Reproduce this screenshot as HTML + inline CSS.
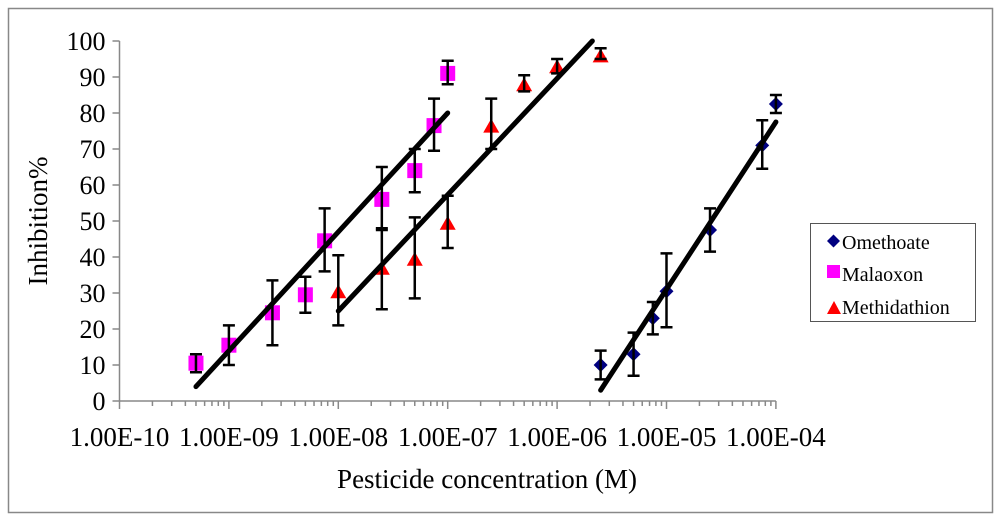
<!DOCTYPE html>
<html><head><meta charset="utf-8"><style>
body{margin:0;background:#fff;}
svg{display:block;font-family:"Liberation Serif",serif;}
</style></head><body>
<svg id="chart" width="1000" height="521">
<rect x="8.5" y="8.5" width="984" height="504" fill="#fff" stroke="#888" stroke-width="1.5"/>
<g id="axes"></g><g id="marks"></g>
<text x="47" y="221" font-size="27" text-anchor="middle" transform="rotate(-90 47 221)">Inhibition%</text>
<text x="487" y="488" font-size="27" text-anchor="middle">Pesticide concentration (M)</text>
<g>
<rect x="810.5" y="223.5" width="165" height="98" fill="#fff" stroke="#555"/>
<g><path d="M827,241 l6.5,-6.5 l6.5,6.5 l-6.5,6.5z" fill="#000080"/><text x="842" y="249" font-size="20">Omethoate</text></g>
<g><rect x="827" y="265" width="13" height="13" fill="#ff00ff"/><text x="842" y="281" font-size="20">Malaoxon</text></g>
<g><path d="M827,314 l7,-13 l7,13z" fill="#ff0000"/><text x="842" y="314" font-size="20">Methidathion</text></g>
</g>
</svg>
<script>
const xTickLabels=["1.00E-10","1.00E-09","1.00E-08","1.00E-07","1.00E-06","1.00E-05","1.00E-04"];
const yTickLabels=[0,10,20,30,40,50,60,70,80,90,100];
const malConc=[5e-10,1e-9,2.5e-9,5e-9,7.5e-9,2.5e-8,5e-8,7.5e-8,1e-7];
const malVal=[10.5,15.5,24.5,29.5,44.5,56,64,76.5,91];
const malLo=[8,10,15.5,24.5,36,48,58,69.5,88];
const malHi=[13,21,33.5,34.5,53.5,65,70,84,94.5];
const metConc=[1e-8,2.5e-8,5e-8,1e-7,2.5e-7,5e-7,1e-6,2.5e-6];
const metVal=[30.5,37,39.5,49.5,76.5,88,93,96];
const metLo=[21,25.5,28.5,42.5,70,86,91,95];
const metHi=[40.5,47.5,51,57,84,90.5,95,98];
const omeConc=[2.5e-6,5e-6,7.5e-6,1e-5,2.5e-5,7.5e-5,1e-4];
const omeVal=[10,13,23,30.5,47.5,71,82.5];
const omeLo=[6,7,18.5,20.5,41.5,64.5,80];
const omeHi=[14,19,27.5,41,53.5,78,85];
const malFit=[[5e-10,4],[1e-7,80]];
const metFit=[[1e-8,25],[2.1e-6,100]];
const omeFit=[[2.5e-6,3],[1e-4,77.5]];
const X0=119.5,DEC=109.4,Y0=401,YU=3.6;
const sx=c=>X0+(Math.log10(c)+10)*DEC;
const sy=v=>Y0-v*YU;
const NS="http://www.w3.org/2000/svg";
function mk(t,a,p){const e=document.createElementNS(NS,t);for(const k in a)e.setAttribute(k,a[k]);p.appendChild(e);return e;}
const ax=document.getElementById('axes'),mg=document.getElementById('marks');
const ya=mk('line',{x1:X0,y1:sy(100),x2:X0,y2:Y0,stroke:'#888','stroke-width':1.5},ax);


const xa=mk('line',{x1:X0,y1:Y0,x2:sx(1e-4),y2:Y0,stroke:'#888','stroke-width':1.5},ax);


yTickLabels.forEach(v=>{
 mk('line',{x1:X0-7,y1:sy(v),x2:X0,y2:sy(v),stroke:'#888','stroke-width':1.5},ax);
 const t=mk('text',{x:X0-14,y:sy(v)+9,'font-size':26,'text-anchor':'end'},ax);t.textContent=v;
 
 
});
xTickLabels.forEach((l,i)=>{
 const c=Math.pow(10,-10+i);
 mk('line',{x1:sx(c),y1:Y0,x2:sx(c),y2:Y0+8,stroke:'#888','stroke-width':1.5},ax);
 if(i<6)for(let m=2;m<10;m++)mk('line',{x1:sx(c*m),y1:Y0,x2:sx(c*m),y2:Y0+5,stroke:'#888','stroke-width':1.5},ax);
 const t=mk('text',{x:sx(c),y:446,'font-size':27,'text-anchor':'middle'},ax);t.textContent=l;
 
 
});
function fit(f,name){const l=mk('line',{x1:sx(f[0][0]),y1:sy(f[0][1]),x2:sx(f[1][0]),y2:sy(f[1][1]),stroke:'#000','stroke-width':5,'stroke-linecap':'round'},mg);
 
 }
function series(C,V,L,H,shape,col,name){
 const g=mk('g',{},mg);
 
 
 C.forEach((c,i)=>{const x=sx(c);
  let s;
  if(shape==='sq')s=mk('rect',{x:x-7.5,y:sy(V[i])-7.5,width:15,height:15,fill:col},g);
  else if(shape==='tri')s=mk('path',{d:`M${x-8},${sy(V[i])+7} l8,-14 l8,14z`,fill:col},g);
  else s=mk('path',{d:`M${x-7},${sy(V[i])} l7,-7 l7,7 l-7,7z`,fill:col},g);
  
  
  mk('path',{d:`M${x},${sy(L[i])}V${sy(H[i])}M${x-6},${sy(L[i])}h12M${x-6},${sy(H[i])}h12`,stroke:'#000','stroke-width':2.5,fill:'none'},g);
 });}
series(malConc,malVal,malLo,malHi,'sq','#ff00ff','malaoxon-series');
series(metConc,metVal,metLo,metHi,'tri','#ff0000','methidathion-series');
series(omeConc,omeVal,omeLo,omeHi,'dia','#000080','omethoate-series');
fit(malFit,'malaoxon-trendline');fit(metFit,'methidathion-trendline');fit(omeFit,'omethoate-trendline');
</script>
</body></html>
